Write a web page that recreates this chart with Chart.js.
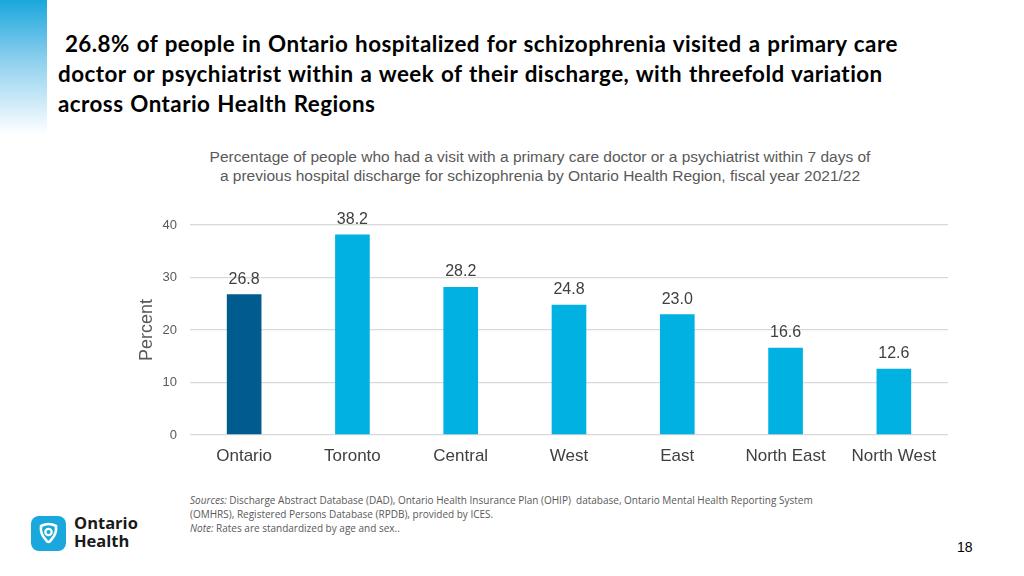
<!DOCTYPE html>
<html>
<head>
<meta charset="utf-8">
<script src="https://cdn.jsdelivr.net/npm/chart.js@4.4.0/dist/chart.umd.min.js"></script>
<style>
    body { margin:0; width:1024px; height:576px; background:#fff; position:relative; overflow:hidden; font-family:"Liberation Sans", Arial, sans-serif; }
    .strip { position:absolute; left:0; top:0; width:47px; height:135px; background:linear-gradient(to bottom, #1aa7dc 0%, #8fd0ee 45%, #ffffff 100%); }
    .heading { position:absolute; left:58px; top:29px; width:960px; font-family:Lato, "Open Sans", sans-serif; font-weight:bold; font-size:22.4px; letter-spacing:0.45px; word-spacing:1px; line-height:30px; color:#000; white-space:nowrap; }
    .subtitle { position:absolute; left:90px; width:900px; top:147px; text-align:center; font-size:15.5px; line-height:19px; color:#595959; }
    .wrap { position:absolute; left:130px; top:200px; width:818px; height:270px; }
    .sources { position:absolute; left:190px; top:493px; font-family:"Open Sans", Lato, sans-serif; font-size:10px; line-height:14px; color:#595959; white-space:nowrap; }
    .logo { position:absolute; left:31px; top:516px; }
    .logotext { position:absolute; left:74px; top:514px; font-family:"Open Sans", sans-serif; font-weight:bold; font-size:16.5px; line-height:18px; color:#1a1a1a; }
    .page { position:absolute; left:957px; top:539px; font-size:14px; color:#000; }
</style>
</head>
<body>
<div class="strip"></div>
<div class="heading">&nbsp;26.8% of people in Ontario hospitalized for schizophrenia visited a primary care<br>doctor or psychiatrist within a week of their discharge, with threefold variation<br>across Ontario Health Regions</div>
<div class="subtitle">Percentage of people who had a visit with a primary care doctor or a psychiatrist within 7 days of<br>a previous hospital discharge for schizophrenia by Ontario Health Region, fiscal year 2021/22</div>
<div class="wrap"><canvas id="chart"></canvas></div>
<div class="sources"><i>Sources:</i> Discharge Abstract Database (DAD), Ontario Health Insurance Plan (OHIP)&nbsp; database, Ontario Mental Health Reporting System<br>(OMHRS), Registered Persons Database (RPDB), provided by ICES.<br><i>Note:</i> Rates are standardized by age and sex..</div>
<svg class="logo" width="35" height="35" viewBox="0 0 35 35">
    <rect x="0" y="0" width="35" height="35" rx="8" fill="#1aa7dc"/>
    <path d="M10 10 Q17.5 6 25 10 Q26 18 20 24 Q17.5 28 15 24 Q9 18 10 10 Z" fill="none" stroke="#fff" stroke-width="2.6"/>
    <circle cx="17.5" cy="16" r="3.2" fill="none" stroke="#fff" stroke-width="2.2"/>
</svg>
<div class="logotext">Ontario<br>Health</div>
<div class="page">18</div>

<script>
// chart data
const regions = ['Ontario','Toronto','Central','West','East','North East','North West'];
const percentValues = [26.8, 38.2, 28.2, 24.8, 23.0, 16.6, 12.6];
const yTicks = [0, 10, 20, 30, 40];

const barColors = regions.map((r,i) => i===0 ? '#005b8e' : '#00b1e1');

// value labels above bars
const valueLabels = {
    id:'valueLabels',
    afterDatasetsDraw(chart){
        const ctx = chart.ctx;
        const meta = chart.getDatasetMeta(0);
        ctx.save();
        ctx.font = '16px "Liberation Sans", Arial, sans-serif';
        ctx.fillStyle = '#404040';
        ctx.textAlign = 'center';
        ctx.textBaseline = 'middle';
        meta.data.forEach((bar,i)=>{
            ctx.fillText(percentValues[i].toFixed(1), bar.x, bar.y - 15);
        });
        ctx.restore();
    }
};

new Chart(document.getElementById('chart'), {
    type:'bar',
    data:{ labels:regions, datasets:[{ data:percentValues, backgroundColor:barColors, barPercentage:0.32, categoryPercentage:1 }] },
    plugins:[valueLabels],
    options:{
        responsive:true, maintainAspectRatio:false, animation:false,
        layout:{ padding:{ top:25, right:0, left:0, bottom:0 } },
        plugins:{ legend:{ display:false }, tooltip:{ enabled:false } },
        scales:{
            x:{
                grid:{ display:false },
                border:{ display:false },
                ticks:{ color:'#404040', font:{ family:'"Liberation Sans", Arial, sans-serif', size:17 }, padding:3, maxRotation:0 },
                afterFit(scale){ scale.height = 35; }
            },
            y:{
                min:0, max:40,
                afterBuildTicks(scale){ scale.ticks = yTicks.map(v => ({ value:v })); },
                grid:{ color:'#d9d9d9', lineWidth:1.3, drawTicks:false },
                border:{ display:false },
                ticks:{ color:'#595959', font:{ family:'"Liberation Sans", Arial, sans-serif', size:13 }, padding:13 },
                title:{ display:true, text:'Percent', color:'#595959', font:{ family:'"Liberation Sans", Arial, sans-serif', size:18 }, padding:{ top:6, bottom:4 } },
                afterFit(scale){ scale.width = 60; }
            }
        }
    }
});
</script>
</body>
</html>
